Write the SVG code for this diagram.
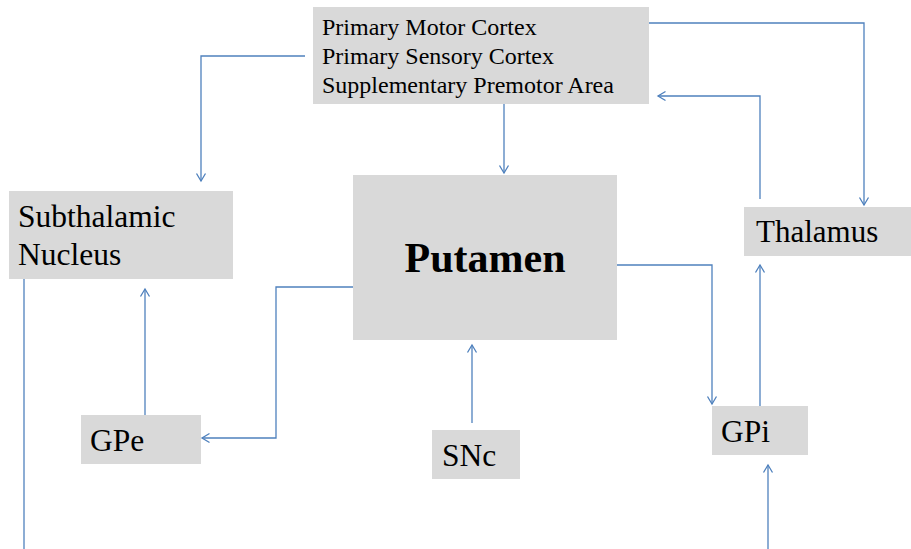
<svg xmlns="http://www.w3.org/2000/svg" width="911" height="549" viewBox="0 0 911 549">
<style>
.box{fill:#d9d9d9;stroke:none}
.t{font-family:"Liberation Serif","Times New Roman",serif;fill:#000}
.c{fill:none;stroke:#4f81bd;stroke-width:1.3}
</style>
<defs>
<marker id="arr" markerUnits="userSpaceOnUse" viewBox="-10 -6 12 12" markerWidth="12" markerHeight="12" refX="0" refY="0" orient="auto">
<path d="M-7.5,-4.5 L0,0 L-7.5,4.5" fill="none" stroke="#4f81bd" stroke-width="1.3"/>
</marker>
</defs>
<rect width="911" height="549" fill="#fff"/>
<g id="cortex">
<rect class="box" x="313" y="7" width="336" height="97"/>
<text class="t" font-size="24" x="322" y="35">Primary Motor Cortex</text>
<text class="t" font-size="24" x="322" y="64">Primary Sensory Cortex</text>
<text class="t" font-size="24" x="322" y="93">Supplementary Premotor Area</text>
</g>
<g id="subthalamic">
<rect class="box" x="9" y="191" width="224" height="88"/>
<text class="t" font-size="31.5" x="18" y="227">Subthalamic</text>
<text class="t" font-size="31.5" x="18" y="265">Nucleus</text>
</g>
<g id="putamen">
<rect class="box" x="353" y="175" width="264" height="165"/>
<text class="t" font-size="42" font-weight="bold" x="485" y="272" text-anchor="middle">Putamen</text>
</g>
<g id="thalamus">
<rect class="box" x="744" y="207" width="167" height="49"/>
<text class="t" font-size="31" x="756" y="242">Thalamus</text>
</g>
<g id="gpe">
<rect class="box" x="81" y="415" width="120" height="49"/>
<text class="t" font-size="31.5" x="90" y="451">GPe</text>
</g>
<g id="snc">
<rect class="box" x="432" y="430" width="88" height="49"/>
<text class="t" font-size="31.5" x="442" y="466">SNc</text>
</g>
<g id="gpi">
<rect class="box" x="712" y="406" width="96" height="49"/>
<text class="t" font-size="31.5" x="721" y="442">GPi</text>
</g>
<g id="connectors">
<polyline class="c" points="305,56 201,56 201,181" marker-end="url(#arr)"/>
<polyline class="c" points="504,104 504,173" marker-end="url(#arr)"/>
<polyline class="c" points="649,23 864,23 864,205" marker-end="url(#arr)"/>
<polyline class="c" points="760,199 760,96 658,96" marker-end="url(#arr)"/>
<polyline class="c" points="617,265 712,265 712,404" marker-end="url(#arr)"/>
<polyline class="c" points="760,406 760,265" marker-end="url(#arr)"/>
<polyline class="c" points="768,549 768,465" marker-end="url(#arr)"/>
<polyline class="c" points="472,423 472,345" marker-end="url(#arr)"/>
<polyline class="c" points="353,287 276,287 276,438 202,438" marker-end="url(#arr)"/>
<polyline class="c" points="145,415 145,289" marker-end="url(#arr)"/>
<polyline class="c" points="24,279 24,549"/>
</g>
</svg>
